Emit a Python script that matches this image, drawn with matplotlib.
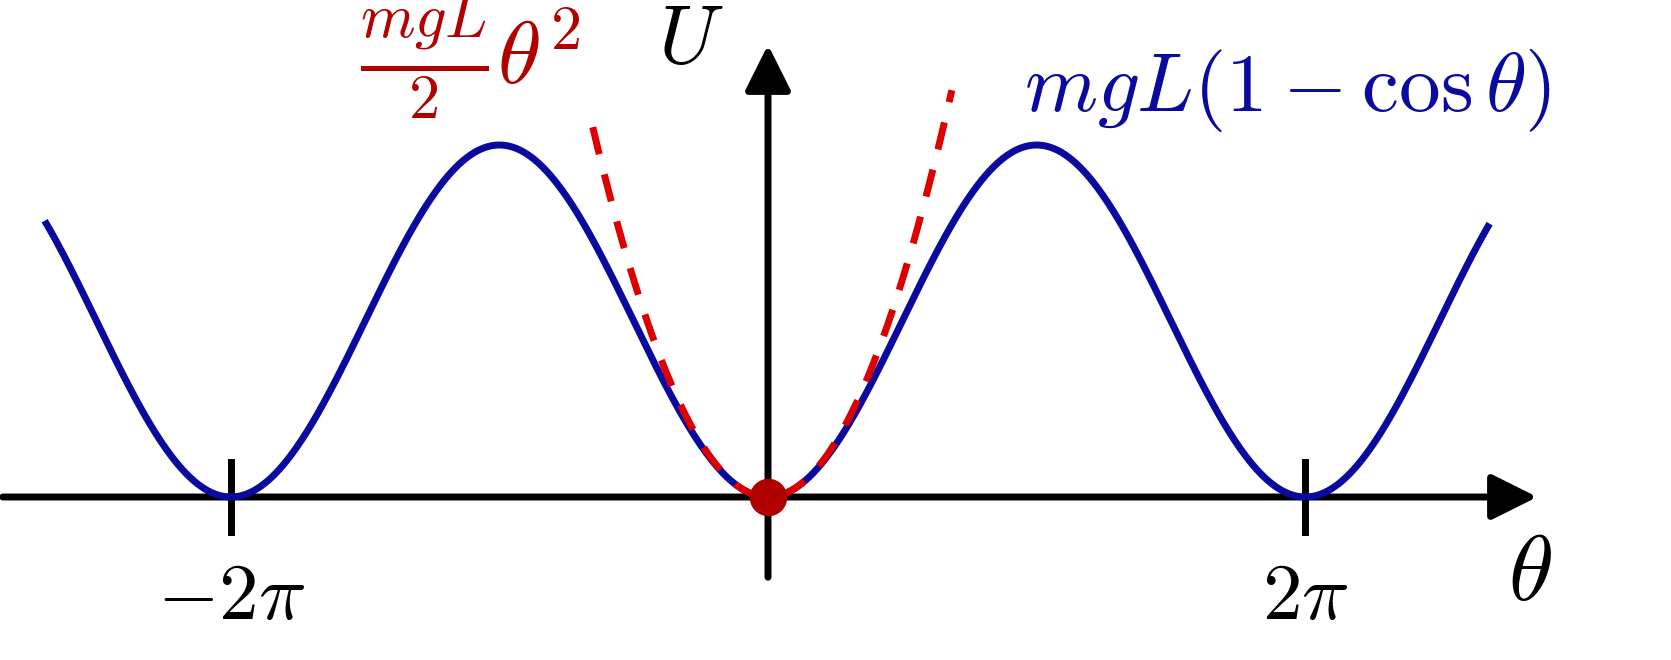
import numpy as np
import matplotlib
matplotlib.use("Agg")
import matplotlib.pyplot as plt

plt.rcParams['mathtext.fontset'] = 'cm'

theta_min, theta_max = -8.46, 8.44
para_min, para_max = -2.05, 2.15
ticks = [-2*np.pi, 2*np.pi]
tick_labels = [r'$-2\pi$', r'$2\pi$']

fig = plt.figure(figsize=(16.71, 6.6), dpi=100)
ax = fig.add_axes([0, 0, 1, 1])
ax.set_xlim(-768/85.5, (1671-768)/85.5)
ax.set_ylim(-163/176, 497/176)
ax.axis('off')

blue = '#0a0a9e'
red = '#dd0000'

t = np.linspace(theta_min, theta_max, 800)
ax.plot(t, 1-np.cos(t), color=blue, lw=5, solid_capstyle='butt', zorder=3)
tp = np.linspace(para_min, para_max, 300)
ax.plot(tp, tp**2/2, color=red, lw=5, dashes=(4, 3), zorder=4)

# axes
ax.annotate('', xy=(1540/85.5-768/85.5, 0), xytext=(-768/85.5, 0),
            arrowprops=dict(arrowstyle='-|>', lw=5, color='k', mutation_scale=70), zorder=2)
ax.annotate('', xy=(0, (497-42)/176), xytext=(0, -83/176),
            arrowprops=dict(arrowstyle='-|>', lw=5, color='k', mutation_scale=70), zorder=2)
for x, lab in zip(ticks, tick_labels):
    ax.plot([x, x], [-0.2, 0.2], color='k', lw=5, zorder=2)
    ax.text(x, -0.35, lab, fontsize=57, ha='center', va='top')

ax.plot([0], [0], 'o', color='#b00000', ms=26, zorder=6)

ax.text(-0.9, 2.6, r'$U$', fontsize=60, ha='center', va='center')
ax.text(8.91, -0.44, r'$\theta$', fontsize=66, ha='center', va='center')
ax.text(3.0, 2.31, r'$mgL(1-\cos\theta)$', fontsize=60, color=blue, ha='left', va='center')
ax.text(-4.77, 2.5, r'$\frac{mgL}{2}\theta^2$', fontsize=64, color='#b00000', ha='left', va='center')

fig.savefig('out.png', dpi=100)
